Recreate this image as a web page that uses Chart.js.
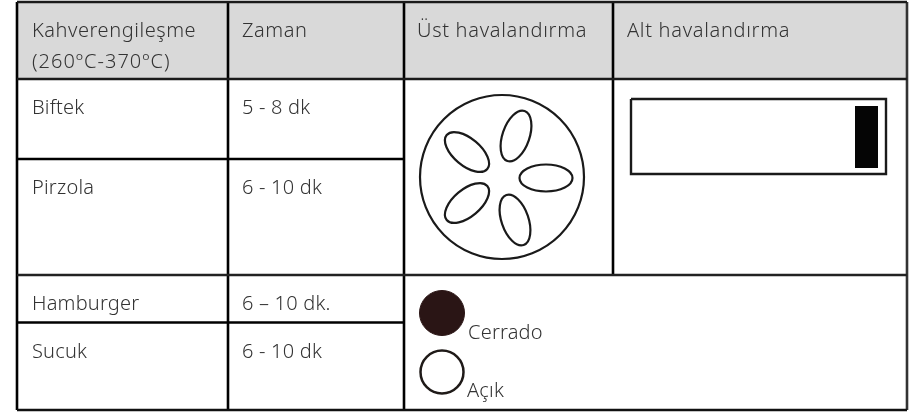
<!DOCTYPE html>
<html><head><meta charset="utf-8">
<script src="https://cdn.jsdelivr.net/npm/chart.js@4"></script>
<style>html,body{margin:0;padding:0;background:#fff}#w{width:915px;height:412px;position:relative}</style>
</head><body><div id="w"><canvas id="c" width="915" height="412"></canvas></div>
<script>
const headerLine1 = ["Kahverengileşme", "Zaman", "Üst havalandırma", "Alt havalandırma"];
const headerLine2 = ["(260ºC-370ºC)"];
const foods = ["Biftek", "Pirzola", "Hamburger", "Sucuk"];
const times = ["5 - 8 dk", "6 - 10 dk", "6 – 10 dk.", "6 - 10 dk"];
const legendLabels = ["Cerrado", "Açık"];

const colEdges = [17, 228, 404, 613, 907];
const rowEdges = [2, 79, 159, 275, 322.5, 410];
const foodBaselines = [114, 194, 310, 358];
const petals = [[516,136,-71],[467,152,40],[546,178,0],[467,203,-40],[515,220,71]];
const FONT = '300 20px "Noto Sans"';
const TEXT = '#333';

const seg = (x1,y1,x2,y2,color) => ({type:'scatter',showLine:true,data:[{x:x1,y:y1},{x:x2,y:y2}],
  borderColor:color||'#000',borderWidth:2.6,pointRadius:0,order:1,clip:false});
const [L,C1,C2,C3,R] = colEdges;
const [T,H,M,B3,B4,Bt] = rowEdges;

const datasets = [
  {type:'scatter',showLine:true,data:[{x:L,y:T},{x:R,y:T}],borderWidth:0,pointRadius:0,
    borderColor:'#d9d9d9',backgroundColor:'#d9d9d9',fill:{value:H},order:10},
  seg(L,T,R,T,'#1a1a1a'), seg(L,H,R,H,'#1a1a1a'), seg(L,M,C2,M), seg(L,B3,R,B3,'#222'), seg(L,B4,C2,B4), seg(L,Bt,R,Bt,'#111'),
  seg(L,T,L,Bt), seg(C1,T,C1,Bt), seg(C2,T,C2,Bt), seg(C3,T,C3,B3), seg(R,T,R,Bt,'#333'),
  {type:'scatter',showLine:true,data:[{x:631,y:99},{x:886,y:99},{x:886,y:174},{x:631,y:174},{x:631,y:99}],
    borderColor:'#1a1a1a',borderWidth:2.4,pointRadius:0,order:1},
  {type:'scatter',showLine:true,data:[{x:855,y:106},{x:878,y:106}],borderWidth:0,pointRadius:0,
    borderColor:'#050505',backgroundColor:'#050505',fill:{value:168},order:1},
  {type:'bubble',data:[{x:502,y:177,r:82}],backgroundColor:'rgba(0,0,0,0)',borderColor:'#1a1a1a',borderWidth:2.2,order:1,clip:false},
  {type:'bubble',data:[{x:442,y:313,r:22.5}],backgroundColor:'#2a1515',borderColor:'#2a1515',borderWidth:1,order:1,clip:false},
  {type:'bubble',data:[{x:442,y:372,r:21.5}],backgroundColor:'#fff',borderColor:'#1f1a18',borderWidth:2.5,order:1,clip:false}
];

const tablePlugin = {
  id:'tableText',
  afterDatasetsDraw(chart){
    const {ctx,scales:{x,y}} = chart;
    ctx.save();
    ctx.strokeStyle='#1a1a1a'; ctx.lineWidth=2.2;
    petals.forEach(([px,py,a])=>{
      ctx.beginPath();
      ctx.ellipse(x.getPixelForValue(px),y.getPixelForValue(py),26.5,13.5,a*Math.PI/180,0,Math.PI*2);
      ctx.stroke();
    });
    ctx.font=FONT; ctx.fillStyle=TEXT; ctx.textBaseline='alphabetic';
    const t=(s,px,py)=>ctx.fillText(s,x.getPixelForValue(px),y.getPixelForValue(py));
    ctx.letterSpacing='0.55px';
    t(headerLine1[0],32,37); t(headerLine1[1],242,37);
    ctx.letterSpacing='0.7px';
    t(headerLine1[2],417,37); t(headerLine1[3],627,37);
    ctx.letterSpacing='1px';
    t(headerLine2[0],32,68);
    ctx.letterSpacing='0.2px';
    foods.forEach((s,i)=>t(s,32,foodBaselines[i]));
    times.forEach((s,i)=>t(s,242,foodBaselines[i]));
    t(legendLabels[0],468,339);
    t(legendLabels[1],467,397);
    ctx.restore();
  }
};

new Chart(document.getElementById('c'),{
  type:'scatter',
  data:{datasets},
  plugins:[tablePlugin],
  options:{
    responsive:false,animation:false,
    layout:{padding:0,autoPadding:false},
    plugins:{legend:{display:false},tooltip:{enabled:false},title:{display:false}},
    scales:{
      x:{type:'linear',min:0,max:915,display:false},
      y:{type:'linear',min:0,max:412,reverse:true,display:false}
    }
  }
});
</script></body></html>
